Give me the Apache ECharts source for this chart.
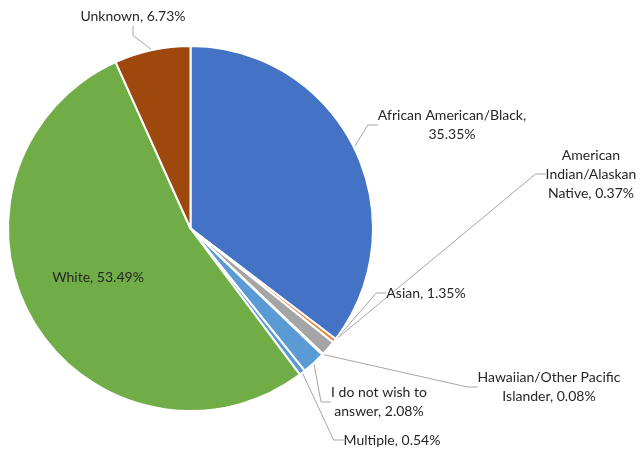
<!DOCTYPE html>
<html><head><meta charset="utf-8">
<script src="https://cdn.jsdelivr.net/npm/echarts@6/dist/echarts.min.js"></script>
<style>html,body{margin:0;padding:0;background:#fff}#c{width:640px;height:451px}</style>
</head><body><div id="c"></div>
<script>
const categories = ['African American/Black','American Indian/Alaskan Native','Asian','Hawaiian/Other Pacific Islander','I do not wish to answer','Multiple','White','Unknown'];
const labelTexts = ['African American/Black,\n35.35%','American\nIndian/Alaskan\nNative, 0.37%','Asian, 1.35%','Hawaiian/Other Pacific\nIslander, 0.08%','I do not wish to\nanswer, 2.08%','Multiple, 0.54%','White, 53.49%','Unknown, 6.73%'];
const values = [35.35, 0.37, 1.35, 0.08, 2.08, 0.54, 53.49, 6.73];
const colors = ['#4472C4','#ED7D31','#A5A5A5','#FFC000','#5B9BD5','#5B9BD5','#70AD47','#9E480E'];
// label layout (style): centre of each label box
const labelPos = [[452,125],[591,174],[426,293],[549,387],[379,402],[392,440],[98,277],[133,16]];

const chart = echarts.init(document.getElementById('c'));
chart.setOption({
  animation:false,
  series:[{
    type:'pie',
    center:[190.5,228.5],
    radius:[0,182.5],
    startAngle:90,
    clockwise:true,
    avoidLabelOverlap:false,
    itemStyle:{borderColor:'#fff',borderWidth:2},
    label:{show:true,position:'outside',color:'#262626',fontFamily:'Lato',fontSize:14,lineHeight:19,align:'center',
      formatter:p=>labelTexts[p.dataIndex]},
    labelLine:{show:true,length:10,length2:10,lineStyle:{color:'#A6A6A6',width:1}},
    labelLayout:function(p){
      const pos = labelPos[p.dataIndex];
      return {x:pos[0], y:pos[1], align:'center', verticalAlign:'middle'};
    },
    data:categories.map((c,i)=>({name:c,value:values[i],itemStyle:{color:colors[i]},
      label: i===6?{position:'inside'}:undefined,
      labelLine: i===6?{show:false}:undefined}))
  }]
});
</script></body></html>
